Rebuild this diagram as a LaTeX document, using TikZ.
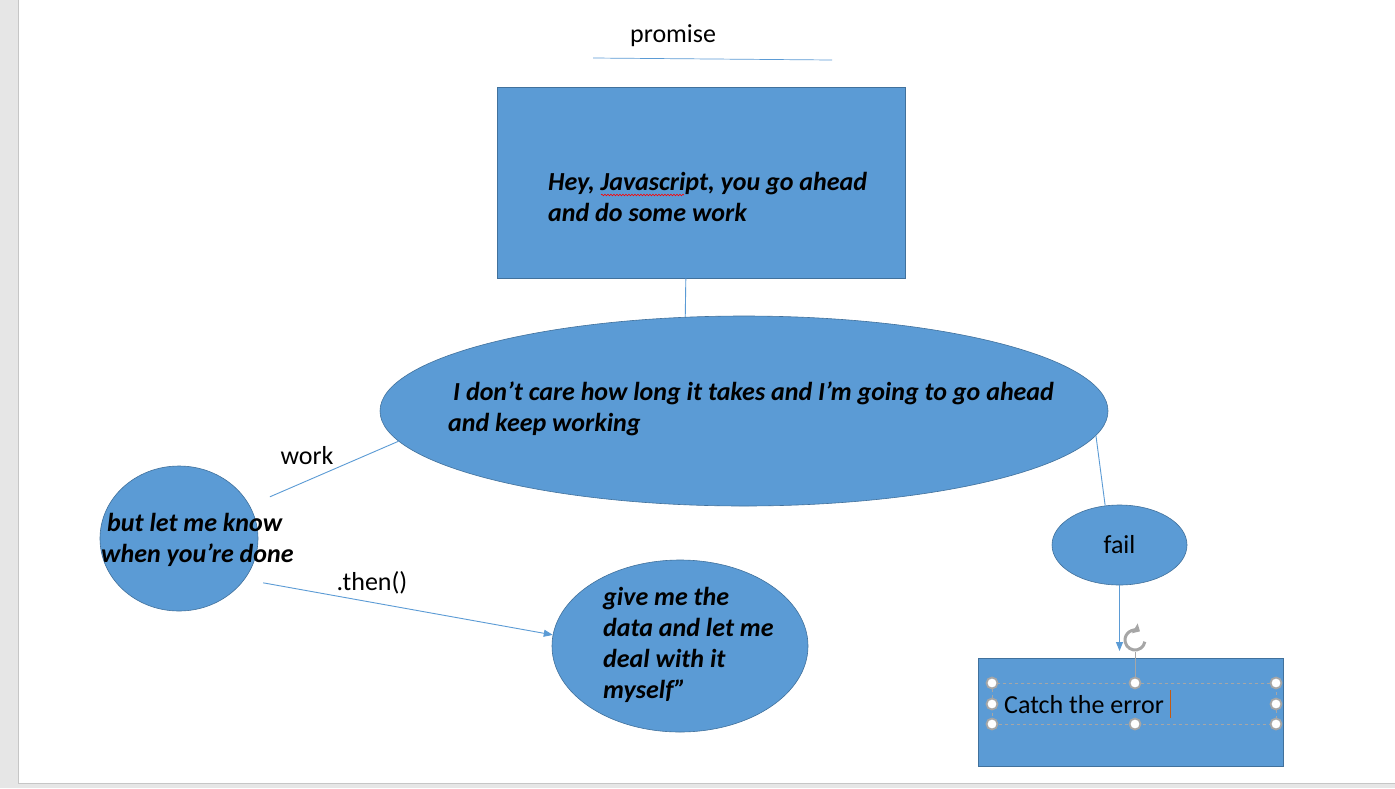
\documentclass[tikz,border=0pt]{standalone}
\usepackage{fontspec}
\setmainfont{Carlito}
\usetikzlibrary{shapes.geometric,arrows.meta,decorations.pathmorphing}
\definecolor{officeblue}{HTML}{5B9BD5}
\definecolor{officeedge}{HTML}{41719C}
\definecolor{handlegray}{HTML}{A6A6A6}
\definecolor{pagegray}{HTML}{E6E6E6}
\definecolor{pageedge}{HTML}{C6C6C6}
\definecolor{cursororange}{HTML}{C55A11}

\begin{document}
\begin{tikzpicture}[x=1pt,y=-1pt,
  blob/.style={ellipse,fill=officeblue,draw=officeedge,line width=0.6pt,inner sep=0pt},
  box/.style={rectangle,fill=officeblue,draw=officeedge,line width=0.6pt,inner sep=0pt},
  talk/.style={anchor=base west,align=left,inner sep=0pt,font=\fontsize{26}{31}\selectfont\bfseries\itshape},
  plain/.style={inner sep=0pt,font=\fontsize{26}{31}\selectfont},
  link/.style={officeblue,line width=0.9pt},
  tip/.style={-{Triangle[length=9pt,width=7pt]}},
  handle/.style={circle,fill=white,draw=handlegray,line width=1.8pt,minimum size=11pt,inner sep=0pt}]
\useasboundingbox (0,0) rectangle (1395,788);
\fill[pagegray] (0,0) rectangle (1395,788);
\fill[white] (19,0) rectangle (1395,783);
\draw[pageedge] (18.5,0) -- (18.5,783.5) -- (1395,783.5);

% title
\node[plain,anchor=base west] (promise) at (630,42) {promise};
\draw[link,line width=0.7pt] (593,58) -- (832,60);

% shapes
\node[box,minimum width=408pt,minimum height=191pt] (hey) at (701,182.5) {};
\node[blob,minimum width=728pt,minimum height=190pt] (care) at (744,411) {};
\node[blob,minimum width=158pt,minimum height=145pt] (know) at (179,538.5) {};
\node[blob,minimum width=256pt,minimum height=172pt] (data) at (680,646) {};
\node[blob,plain,minimum width=135pt,minimum height=80pt] (fail) at (1119.5,545) {fail};
\node[box,minimum width=305pt,minimum height=108pt] (catch) at (1130.5,712) {};

% texts (anchored at the last baseline)
\node[talk] (heytext) at (548,221) {Hey, Javascript, you go ahead\\and do some work};
\draw[red,line width=0.6pt,decorate,decoration={snake,amplitude=0.8pt,segment length=3pt}] (601,195) -- (684,195);
\node[talk] (caretext) at (448,431) {\hspace{5pt}I don’t care how long it takes and I’m going to go ahead\\and keep working};
\node[talk] (knowtext) at (101,562) {\hspace{6pt}but let me know\\when you’re done};
\node[talk] (datatext) at (603,698) {give me the\\data and let me\\deal with it\\myself”};
\node[plain,anchor=base west] (catchtext) at (1004,713) {Catch the error};

% connectors
\draw[link] (hey.261) -- (care.122);
\draw[link,shorten <=22pt] (know.25) -- (care.185);
\node[plain] (worklabel) at (307,456) {work};
\draw[link,tip,shorten <=19pt] (know.-32) -- (data.175);
\node[plain] (thenlabel) at (372,583) {.then()};
\draw[link] (care.-4.8) -- (fail.110);
\coordinate (failend) at (1119.5,651);
\draw[link,tip] (fail.south) -- (failend);

% text box selection
\draw[handlegray,dashed,line width=0.5pt] (992,683) rectangle (1276,724);
\draw[handlegray,line width=1pt] (1135,652) -- (1135,683);
\draw[handlegray,line width=3pt,-{Triangle[length=6pt,width=11pt]}] (1135,640) ++(10:10) arc[start angle=10,end angle=300,radius=10];
\foreach \hx/\hy in {992/683,1135/683,1276/683,992/704,1276/704,992/724,1135/724,1276/724}
  \node[handle] at (\hx,\hy) {};
\draw[cursororange,line width=1pt] (1170,690) -- (1170,718);
\end{tikzpicture}
\end{document}
